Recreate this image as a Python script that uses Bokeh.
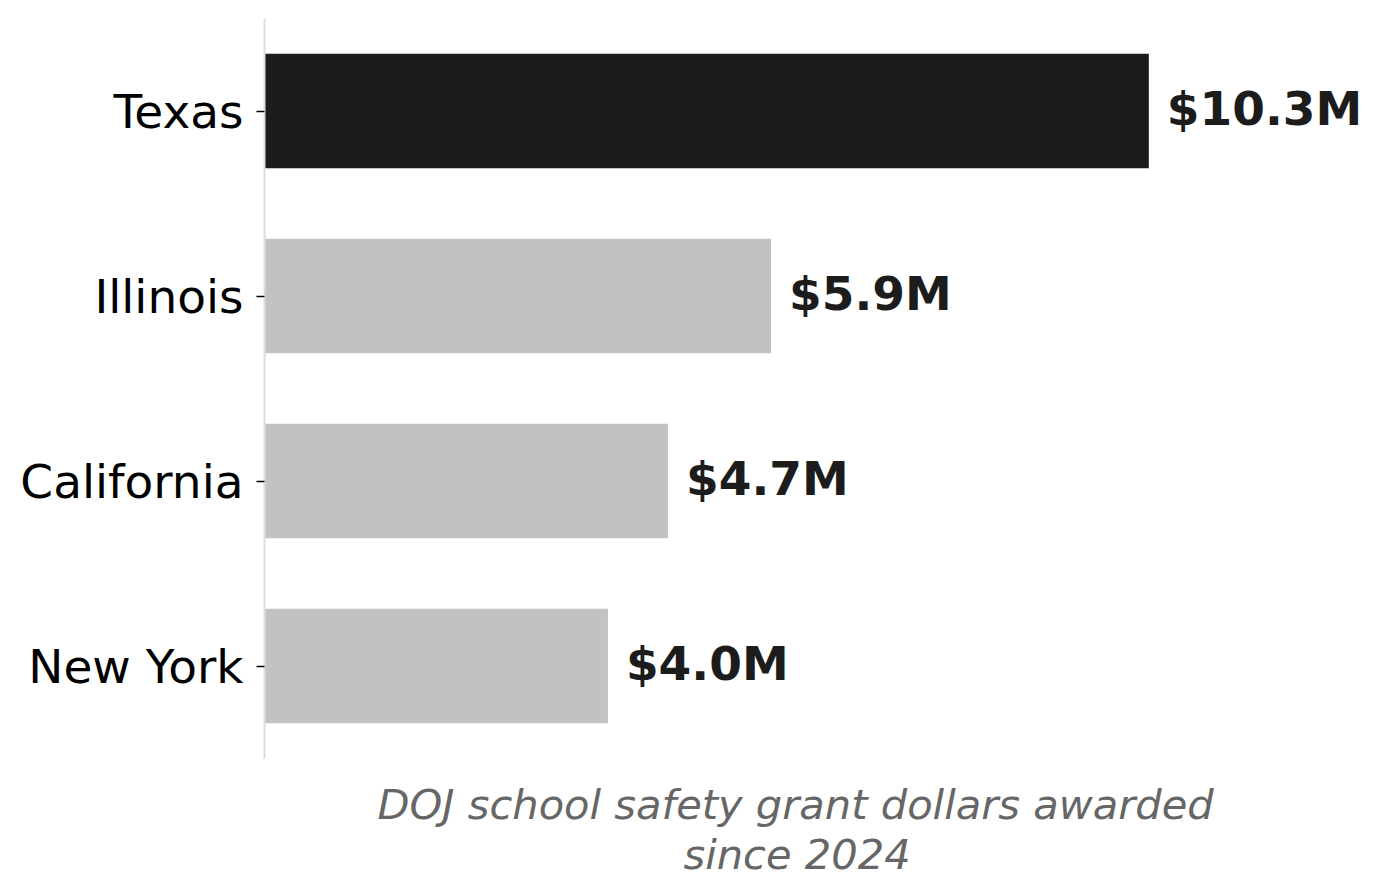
from bokeh.plotting import figure
from bokeh.models import ColumnDataSource, LabelSet, FactorRange, Range1d, Title
from bokeh.core.properties import value
from bokeh.embed import file_html
from bokeh.resources import INLINE

# ---- data ----
states = ["Texas", "Illinois", "California", "New York"]
grants_musd = [10.3, 5.9, 4.7, 4.0]
value_labels = ["$10.3M", "$5.9M", "$4.7M", "$4.0M"]
bar_colors = ["#1c1c1c", "#c2c2c2", "#c2c2c2", "#c2c2c2"]
axis_title_lines = ["DOJ school safety grant dollars awarded", "since 2024"]

source = ColumnDataSource(dict(state=states, value=grants_musd,
                               label=value_labels, color=bar_colors))

FONT = "DejaVu Sans"

p = figure(width=1375, height=880,
           y_range=FactorRange(factors=list(reversed(states)), range_padding=0),
           x_range=Range1d(0, 12.94),
           x_axis_location=None,
           output_backend="svg", toolbar_location=None,
           min_border_left=264, min_border_right=0,
           min_border_top=18, min_border_bottom=122)

p.hbar(y="state", right="value", left=0, height=0.62, color="color",
       line_color=None, source=source)

labels = LabelSet(x="value", y="state", text="label", source=source,
                  x_offset=18, y_offset=3, text_baseline="middle", text_align="left",
                  text_font=value(FONT), text_font_size="47px",
                  text_font_style="bold", text_color="#1c1c1c")
p.add_layout(labels)

p.outline_line_color = None
p.xgrid.grid_line_color = None
p.ygrid.grid_line_color = None
p.background_fill_color = "white"
p.border_fill_color = "white"

# y axis
yax = p.yaxis[0]
yax.axis_line_color = "#dddddd"
yax.axis_line_width = 2
yax.major_tick_out = 8
yax.major_tick_in = 0
yax.major_tick_line_color = "black"
yax.major_tick_line_width = 1.5
yax.minor_tick_line_color = None
yax.major_label_standoff = 13
yax.major_label_text_font = FONT
yax.major_label_text_font_size = "47px"
yax.major_label_text_color = "black"

# x-axis title, two centred lines (centred on the original axis span)
for line, off, standoff in zip(axis_title_lines, [113, 419], [38, -40]):
    t = Title(text=line, align="left", offset=off, standoff=standoff,
              text_font=FONT, text_font_size="41.6px", text_font_style="italic",
              text_color="#666666", text_line_height=1.0)
    p.add_layout(t, "below")

open("out.html", "w").write(file_html(p, INLINE))
